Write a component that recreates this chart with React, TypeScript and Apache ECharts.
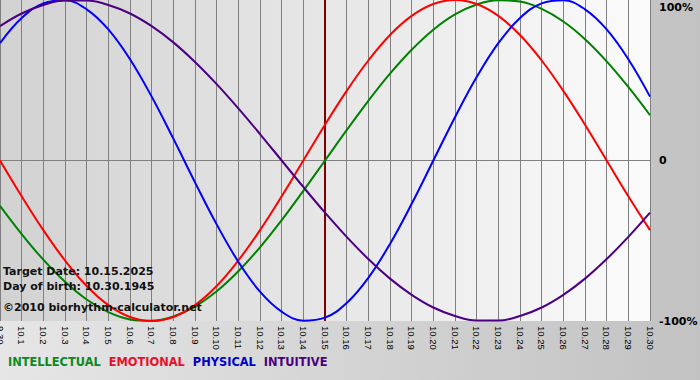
import React, { useEffect, useRef } from "react";
import * as echarts from "echarts";

const days: string[] = [
  "9.30", "10.1", "10.2", "10.3", "10.4", "10.5", "10.6", "10.7", "10.8", "10.9", "10.10",
  "10.11", "10.12", "10.13", "10.14", "10.15", "10.16", "10.17", "10.18", "10.19", "10.20",
  "10.21", "10.22", "10.23", "10.24", "10.25", "10.26", "10.27", "10.28", "10.29", "10.30",
];

const intellectual: number[] = [
  -0.282, -0.458, -0.618, -0.756, -0.866, -0.945, -0.99, -0.999, -0.972, -0.91, -0.815,
  -0.69, -0.541, -0.372, -0.189, 0, 0.189, 0.372, 0.541, 0.69, 0.815,
  0.91, 0.972, 0.999, 0.99, 0.945, 0.866, 0.756, 0.618, 0.458, 0.282,
];

const emotional: number[] = [
  0, -0.223, -0.434, -0.623, -0.782, -0.901, -0.975, -1, -0.975, -0.901, -0.782,
  -0.623, -0.434, -0.223, 0, 0.223, 0.434, 0.623, 0.782, 0.901, 0.975,
  1, 0.975, 0.901, 0.782, 0.623, 0.434, 0.223, 0, -0.223, -0.434,
];

const physical: number[] = [
  0.731, 0.888, 0.979, 0.998, 0.942, 0.817, 0.631, 0.398, 0.136, -0.136, -0.398,
  -0.631, -0.817, -0.942, -0.998, -0.979, -0.888, -0.731, -0.52, -0.27, 0,
  0.27, 0.52, 0.731, 0.888, 0.979, 0.998, 0.942, 0.817, 0.631, 0.398,
];

const intuitive: number[] = [
  0.837, 0.916, 0.969, 0.997, 0.997, 0.969, 0.916, 0.837, 0.736, 0.614, 0.476,
  0.325, 0.165, 0, -0.165, -0.325, -0.476, -0.614, -0.736, -0.837, -0.916,
  -0.969, -0.997, -0.997, -0.969, -0.916, -0.837, -0.736, -0.614, -0.476, -0.325,
];

const seriesNames: string[] = ["INTELLECTUAL", "EMOTIONAL", "PHYSICAL", "INTUITIVE"];
const seriesColors: string[] = ["#008000", "#ff0000", "#0000ff", "#4b0082"];
const legendColors: string[] = ["#0a8a1e", "#e8102a", "#0000cc", "#4b0082"];
const targetDay = "10.15";
const infoLines: string[] = ["Target Date: 10.15.2025", "Day of birth: 10.30.1945", "\u00a92010 biorhythm-calculator.net"];

const FONT = "DejaVu Sans";

export default function App() {
  const ref = useRef<HTMLDivElement>(null);
  useEffect(() => {
    if (!ref.current) return;
    const chart = echarts.init(ref.current, undefined, { renderer: "svg" });
    const dataSets = [intellectual, emotional, physical, intuitive];
    const series: any[] = seriesNames.map((name, i) => ({
      name,
      type: "line",
      data: dataSets[i],
      smooth: 0.4,
      symbol: "none",
      lineStyle: { color: seriesColors[i], width: 2 },
      itemStyle: { color: seriesColors[i] },
      z: 3,
    }));
    series[0].markLine = {
      silent: true,
      symbol: "none",
      label: { show: false },
      lineStyle: { color: "#800000", width: 2, type: "solid" },
      data: [{ xAxis: targetDay }],
      z: 2,
    };
    chart.setOption({
      animation: false,
      backgroundColor: new echarts.graphic.LinearGradient(0, 0, 1, 0, [
        { offset: 0, color: "#e6e6e6" },
        { offset: 1, color: "#c2c2c2" },
      ]),
      grid: {
        left: 0,
        right: 50,
        top: 0,
        bottom: 59,
        show: true,
        borderWidth: 0,
        containLabel: false,
        outerBoundsMode: "none",
        backgroundColor: new echarts.graphic.LinearGradient(0, 0, 1, 0, [
          { offset: 0, color: "#d2d2d2" },
          { offset: 1, color: "#fbfbfb" },
        ]),
      },
      legend: {
        left: -2,
        top: 351,
        icon: "none",
        itemWidth: 0,
        itemHeight: 10,
        itemGap: 3,
        selectedMode: false,
        data: seriesNames.map((n, i) => ({
          name: n,
          textStyle: { color: legendColors[i], fontFamily: FONT, fontWeight: "bold", fontSize: 11.4 },
        })),
        textStyle: { fontFamily: FONT, fontWeight: "bold", fontSize: 11.4 },
      },
      xAxis: {
        type: "category",
        boundaryGap: false,
        data: days,
        axisLine: { show: false },
        axisTick: { show: true, length: 4, lineStyle: { color: "#808080", width: 1 } },
        splitLine: { show: true, lineStyle: { color: "#808080", width: 1 } },
        axisLabel: {
          interval: 0,
          rotate: -90,
          margin: 5,
          fontFamily: "Liberation Sans",
          fontSize: 9.5,
          color: "#000",
        },
      },
      yAxis: {
        type: "value",
        position: "right",
        min: -1,
        max: 1,
        interval: 1,
        axisLine: { show: false },
        axisTick: { show: false },
        splitLine: {
          show: true,
          lineStyle: { color: ["rgba(0,0,0,0)", "#808080", "rgba(0,0,0,0)"], width: 1 },
        },
        axisLabel: {
          margin: 9,
          fontFamily: FONT,
          fontWeight: "bold",
          fontSize: 11,
          color: "#000",
          formatter: (v: number) => (v === 1 ? "{t|100%}" : v === 0 ? "0" : "-100%"),
          rich: {
            t: { fontFamily: FONT, fontWeight: "bold", fontSize: 11, color: "#000", padding: [14, 0, 0, 0] },
          },
        },
      },
      graphic: infoLines.map((txt, i) => ({
        type: "text",
        left: 3,
        top: [266, 281, 302][i],
        z: 10,
        style: { text: txt, fill: "#111", font: `bold 11px '${FONT}'` },
      })),
      series,
    });
    return () => chart.dispose();
  }, []);
  return <div ref={ref} style={{ position: "fixed", left: 0, top: 0, width: 700, height: 380 }} />;
}
